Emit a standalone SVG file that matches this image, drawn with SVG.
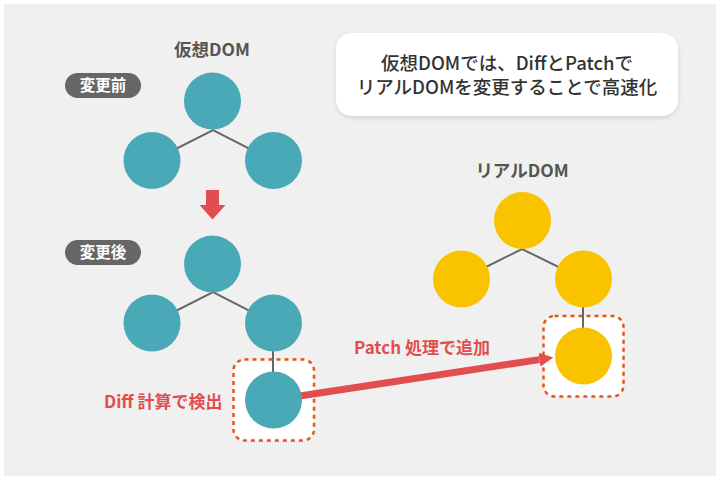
<svg xmlns="http://www.w3.org/2000/svg" width="720" height="480" viewBox="0 0 720 480">
  <defs>
    <style>
      .t { font-family: "Noto Sans CJK JP", "Noto Sans", sans-serif; font-weight: bold; }
      .title { font-size: 17.5px; fill: #555555; text-anchor: middle; }
      .pill { fill: #666666; }
      .pilltxt { font-size: 15.5px; fill: #ffffff; text-anchor: middle; }
      .red { font-size: 17px; fill: #e24e4f; }
      .callout { font-size: 18.5px; fill: #333333; text-anchor: middle; font-weight: 500; }
      .teal { fill: #4aa9b7; }
      .yellow { fill: #f9c300; }
      .edge { stroke: #666666; stroke-width: 2; fill: none; }
      .dash { fill: #ffffff; stroke: #e8560f; stroke-width: 2.5; stroke-dasharray: 4 4; }
    </style>
    <filter id="sh" x="-10%" y="-20%" width="120%" height="150%">
      <feDropShadow dx="0" dy="2" stdDeviation="2" flood-color="#000000" flood-opacity="0.12"/>
    </filter>
    <marker id="ah" viewBox="0 0 10 10" refX="0" refY="5" markerWidth="2" markerHeight="2.3" orient="auto" markerUnits="strokeWidth">
      <path d="M0,0 L10,5 L0,10 Z" fill="#e24e4f"/>
    </marker>
  </defs>

  <rect x="4" y="4" width="712" height="472" fill="#f0f0f0"/>

  <!-- highlight boxes -->
  <rect id="diff-box" class="dash" x="233.5" y="359.5" width="80.5" height="81" rx="11"/>
  <rect id="patch-box" class="dash" x="543.5" y="316" width="80" height="80.5" rx="11"/>

  <!-- connectors -->
  <g id="connectors">
    <polyline class="edge" points="152,161 213,130 273,161"/>
    <polyline class="edge" points="152,323 213,292 273,323"/>
    <line class="edge" x1="273" y1="350" x2="273" y2="375"/>
    <polyline class="edge" points="462,279 522,249 583,279"/>
    <line class="edge" x1="583" y1="306" x2="583" y2="330"/>
    <path d="M206,190 H219 V205 H225.5 L212.5,219.5 L199.5,205 H206 Z" fill="#e24e4f"/>
    <line x1="280" y1="399" x2="539.5" y2="359.6" stroke="#e24e4f" stroke-width="7" marker-end="url(#ah)"/>
  </g>

  <!-- virtual DOM -->
  <text class="t title" x="212" y="56">仮想DOM</text>
  <g id="label-before">
    <rect class="pill" x="65" y="73" width="76" height="25" rx="12.5"/>
    <text class="t pilltxt" x="103" y="91">変更前</text>
  </g>
  <g id="label-after">
    <rect class="pill" x="65" y="240" width="76" height="25" rx="12.5"/>
    <text class="t pilltxt" x="103" y="258">変更後</text>
  </g>

  <g id="v1-root"><circle class="teal" cx="212.5" cy="101" r="28.5"/></g>
  <g id="v1-left"><circle class="teal" cx="152" cy="160.5" r="28.5"/></g>
  <g id="v1-right"><circle class="teal" cx="273.5" cy="160.5" r="28.5"/></g>

  <g id="v2-root"><circle class="teal" cx="212.5" cy="264" r="28.5"/></g>
  <g id="v2-left"><circle class="teal" cx="152" cy="323" r="28.5"/></g>
  <g id="v2-right"><circle class="teal" cx="273.5" cy="323" r="28.5"/></g>
  <g id="v2-new"><circle class="teal" cx="273.5" cy="400" r="28.5"/></g>

  <text class="t red" x="104" y="408">Diff 計算で検出</text>
  <text class="t red" x="354" y="354">Patch 処理で追加</text>

  <!-- real DOM -->
  <text class="t title" x="522" y="177">リアルDOM</text>
  <g id="r-root"><circle class="yellow" cx="522.5" cy="220.5" r="28.5"/></g>
  <g id="r-left"><circle class="yellow" cx="461.5" cy="279" r="28.5"/></g>
  <g id="r-right"><circle class="yellow" cx="583.5" cy="279" r="28.5"/></g>
  <g id="r-new"><circle class="yellow" cx="583.5" cy="356" r="28.5"/></g>

  <!-- callout -->
  <g id="callout">
    <rect x="336" y="33" width="342" height="83" rx="16" fill="#ffffff" filter="url(#sh)"/>
    <text class="t callout" x="507" y="70">仮想DOMでは、DiffとPatchで</text>
    <text class="t callout" x="507" y="94">リアルDOMを変更することで高速化</text>
  </g>
</svg>
